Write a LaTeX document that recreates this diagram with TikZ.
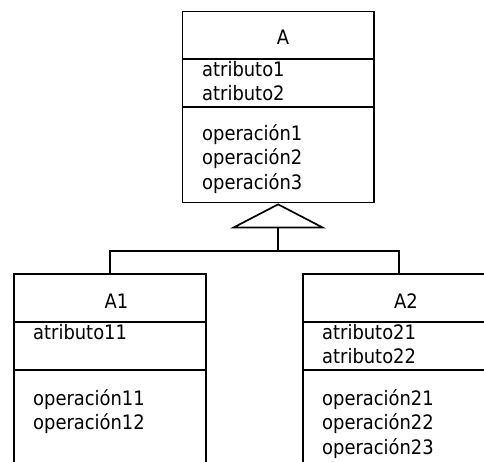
\documentclass[tikz,border=0pt]{standalone}
\usepackage{fontspec}
\setmainfont{DejaVu Sans Condensed}
\usetikzlibrary{arrows.meta}

\tikzset{
  classbox/.style={draw=black, line width=1.7pt, rectangle, inner sep=0pt, anchor=north west},
  sepline/.style={draw=black, line width=1.7pt},
  member/.style={inner sep=0pt, anchor=base west, font=\fontsize{19.9}{24}\selectfont},
  title/.style={inner sep=0pt, anchor=base, font=\fontsize{19.9}{24}\selectfont},
  inherit/.style={draw=black, line width=1.7pt, line join=miter,
    -{Triangle[open, width=96pt, length=25pt, line width=1.7pt]}},
  link/.style={draw=black, line width=1.7pt, line join=miter}
}

\begin{document}
\begin{tikzpicture}[x=1pt, y=-1pt]
  \useasboundingbox (0,0) rectangle (484,461);
  \clip (0,0) rectangle (484,461);

  % superclass A
  \node[classbox, minimum width=191.5pt, minimum height=191pt] (A) at (181.5,10.7) {};
  \draw[sepline] (A.west |- 0,58.7) -- (A.east |- 0,58.7);
  \draw[sepline] (A.west |- 0,106.7) -- (A.east |- 0,106.7);
  \node[title] (A-name) at (283,44) {A};
  \node[member] (A-at1) at (202,76) {atributo1};
  \node[member] (A-at2) at (202,100.5) {atributo2};
  \node[member] (A-op1) at (202,140) {operación1};
  \node[member] (A-op2) at (202,164.5) {operación2};
  \node[member] (A-op3) at (202,189) {operación3};

  % subclass A1
  \node[classbox, minimum width=192pt, minimum height=220pt] (A1) at (13,273) {};
  \draw[sepline] (A1.west |- 0,322) -- (A1.east |- 0,322);
  \draw[sepline] (A1.west |- 0,370) -- (A1.east |- 0,370);
  \node[title] (A1-name) at (116.5,308.5) {A1};
  \node[member] (A1-at1) at (33,339) {atributo11};
  \node[member] (A1-op1) at (33,405) {operación11};
  \node[member] (A1-op2) at (33,429.5) {operación12};

  % subclass A2
  \node[classbox, minimum width=192pt, minimum height=220pt] (A2) at (302,273) {};
  \draw[sepline] (A2.west |- 0,322) -- (A2.east |- 0,322);
  \draw[sepline] (A2.west |- 0,370) -- (A2.east |- 0,370);
  \node[title] (A2-name) at (406,308.5) {A2};
  \node[member] (A2-at1) at (322,339) {atributo21};
  \node[member] (A2-at2) at (322,363.5) {atributo22};
  \node[member] (A2-op1) at (322,405) {operación21};
  \node[member] (A2-op2) at (322,429.5) {operación22};
  \node[member] (A2-op3) at (322,454) {operación23};

  % generalization tree
  \coordinate (bus) at (0,250.7);
  \draw[inherit] (A1.north) |- (bus -| A.south) -- (A.south);
  \draw[link] (A2.north) |- (bus -| A.south);
\end{tikzpicture}
\end{document}
